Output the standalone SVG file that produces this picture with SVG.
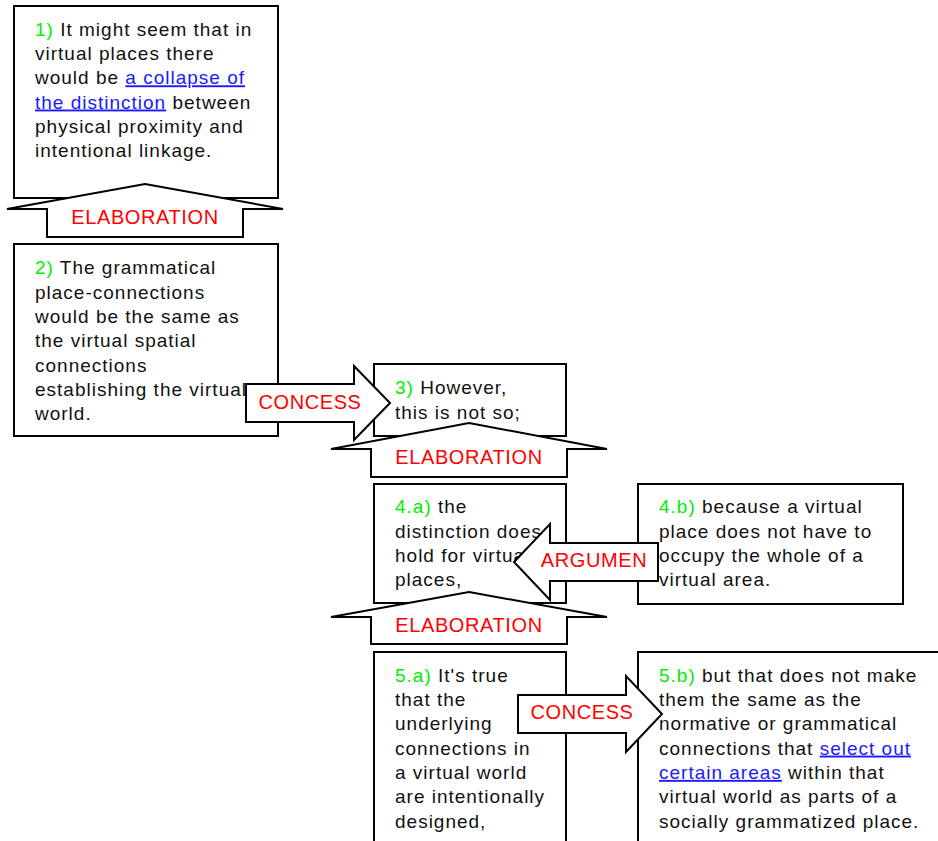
<svg xmlns="http://www.w3.org/2000/svg" width="938" height="841" viewBox="0 0 938 841">
  <style>
    .box { fill: #ffffff; stroke: #000000; stroke-width: 2; }
    .arrow { fill: #ffffff; stroke: #000000; stroke-width: 2; stroke-linejoin: miter; }
    .txt { font-family: "Liberation Sans", Arial, sans-serif; font-size: 19px; letter-spacing: 1px; fill: #111111; }
    .num { fill: #00ee00; }
    .link { fill: #1a1aff; text-decoration: underline; }
    .lbl { font-family: "Liberation Sans", Arial, sans-serif; font-size: 20px; letter-spacing: 0.6px; fill: #ff0000; text-anchor: middle; }
  </style>

  <rect width="938" height="841" fill="#ffffff"/>

  <!-- statement 1 -->
  <g id="node1">
    <rect class="box" x="14" y="6" width="264" height="192"/>
    <text class="txt">
      <tspan x="35" y="35.7"><tspan class="num">1)</tspan> It might seem that in</tspan>
      <tspan x="35" y="60">virtual places there</tspan>
      <tspan x="35" y="84.3">would be <tspan class="link">a collapse of</tspan></tspan>
      <tspan x="35" y="108.5"><tspan class="link">the distinction</tspan> between</tspan>
      <tspan x="35" y="132.7">physical proximity and</tspan>
      <tspan x="35" y="157">intentional linkage.</tspan>
    </text>
  </g>

  <!-- statement 2 -->
  <g id="node2">
    <rect class="box" x="14" y="244" width="264" height="192"/>
    <text class="txt">
      <tspan x="35" y="274.3"><tspan class="num">2)</tspan> The grammatical</tspan>
      <tspan x="35" y="298.6">place-connections</tspan>
      <tspan x="35" y="322.9">would be the same as</tspan>
      <tspan x="35" y="347.2">the virtual spatial</tspan>
      <tspan x="35" y="371.5">connections</tspan>
      <tspan x="35" y="395.8">establishing the virtual</tspan>
      <tspan x="35" y="420.1">world.</tspan>
    </text>
  </g>

  <!-- statement 3 -->
  <g id="node3">
    <rect class="box" x="374" y="364" width="192" height="72"/>
    <text class="txt">
      <tspan x="395" y="394.3"><tspan class="num">3)</tspan> However,</tspan>
      <tspan x="395" y="418.6">this is not so;</tspan>
    </text>
  </g>

  <!-- statement 4.a -->
  <g id="node4a">
    <rect class="box" x="374" y="484" width="192" height="119"/>
    <text class="txt">
      <tspan x="395" y="513.3"><tspan class="num">4.a)</tspan> the</tspan>
      <tspan x="395" y="537.6">distinction does</tspan>
      <tspan x="395" y="561.9">hold for virtual</tspan>
      <tspan x="395" y="586.2">places,</tspan>
    </text>
  </g>

  <!-- statement 4.b -->
  <g id="node4b">
    <rect class="box" x="638" y="484" width="265" height="120"/>
    <text class="txt">
      <tspan x="659" y="513.3"><tspan class="num">4.b)</tspan> because a virtual</tspan>
      <tspan x="659" y="537.6">place does not have to</tspan>
      <tspan x="659" y="561.9">occupy the whole of a</tspan>
      <tspan x="659" y="586.2">virtual area.</tspan>
    </text>
  </g>

  <!-- statement 5.a -->
  <g id="node5a">
    <rect class="box" x="374" y="652" width="192" height="210"/>
    <text class="txt">
      <tspan x="395" y="681.7"><tspan class="num">5.a)</tspan> It's true</tspan>
      <tspan x="395" y="706">that the</tspan>
      <tspan x="395" y="730.3">underlying</tspan>
      <tspan x="395" y="754.6">connections in</tspan>
      <tspan x="395" y="778.9">a virtual world</tspan>
      <tspan x="395" y="803.2">are intentionally</tspan>
      <tspan x="395" y="827.5">designed,</tspan>
    </text>
  </g>

  <!-- statement 5.b -->
  <g id="node5b">
    <rect class="box" x="638" y="652" width="320" height="210"/>
    <text class="txt">
      <tspan x="659" y="681.7"><tspan class="num">5.b)</tspan> but that does not make</tspan>
      <tspan x="659" y="706">them the same as the</tspan>
      <tspan x="659" y="730.3">normative or grammatical</tspan>
      <tspan x="659" y="754.6">connections that <tspan class="link">select out</tspan></tspan>
      <tspan x="659" y="778.9"><tspan class="link">certain areas</tspan> within that</tspan>
      <tspan x="659" y="803.2">virtual world as parts of a</tspan>
      <tspan x="659" y="827.5">socially grammatized place.</tspan>
    </text>
  </g>

  <!-- relation arrows -->
  <g id="connectors">
    <!-- 2 elaborates 1 -->
    <g id="rel-2-1">
      <polygon class="arrow" points="145,184 283,209 243,209 243,237 47,237 47,209 7,209"/>
      <text class="lbl" x="145" y="224">ELABORATION</text>
    </g>
    <!-- 2 concession to 3 -->
    <g id="rel-2-3">
      <polygon class="arrow" points="246,384 354,384 354,366 390,403 354,440 354,422 246,422"/>
      <text class="lbl" x="310" y="408.5">CONCESS</text>
    </g>
    <!-- 4 elaborates 3 -->
    <g id="rel-4-3">
      <polygon class="arrow" points="469,423 607,449 567,449 567,477 371,477 371,449 331,449"/>
      <text class="lbl" x="469" y="463.5">ELABORATION</text>
    </g>
    <!-- 4.b argues for 4.a -->
    <g id="rel-4b-4a">
      <polygon class="arrow" points="658,543 550,543 550,524 514,562 550,600 550,581 658,581"/>
      <text class="lbl" x="594" y="567">ARGUMEN</text>
    </g>
    <!-- 5 elaborates 4 -->
    <g id="rel-5-4">
      <polygon class="arrow" points="469,592 607,617 567,617 567,644 371,644 371,617 331,617"/>
      <text class="lbl" x="469" y="632">ELABORATION</text>
    </g>
    <!-- 5.a concession to 5.b -->
    <g id="rel-5a-5b">
      <polygon class="arrow" points="518,695 626,695 626,676 662,714 626,752 626,733 518,733"/>
      <text class="lbl" x="582" y="718.5">CONCESS</text>
    </g>
  </g>
</svg>
